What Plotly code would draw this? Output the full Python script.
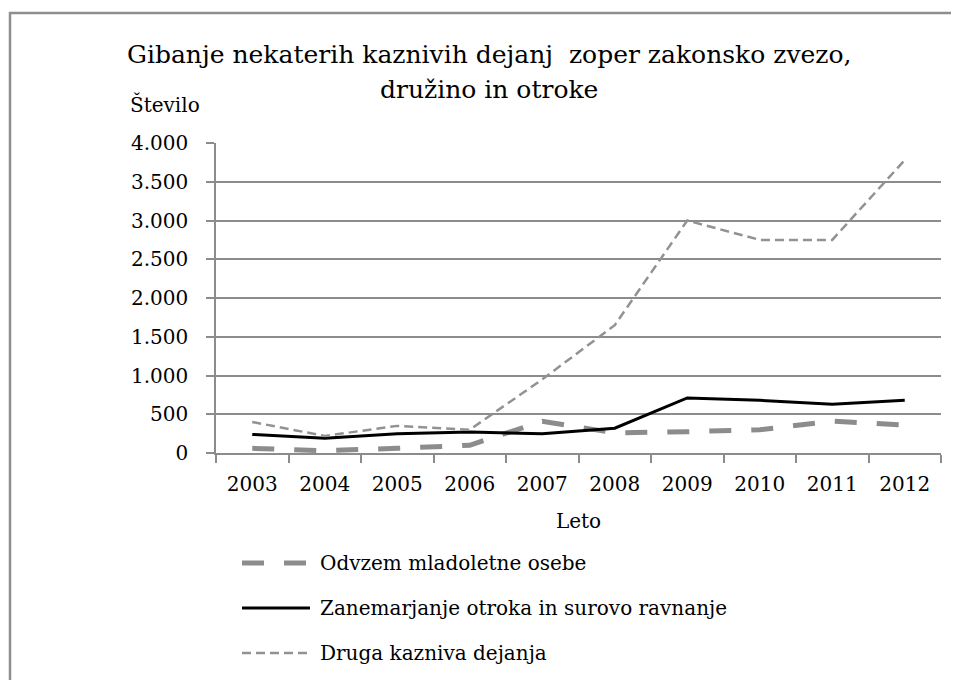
import plotly.graph_objects as go

# ---- data ----
years = ["2003", "2004", "2005", "2006", "2007", "2008", "2009", "2010", "2011", "2012"]
odvzem = [60, 30, 60, 100, 410, 260, 275, 300, 410, 360]
zanemarjanje = [240, 190, 250, 270, 250, 320, 710, 680, 630, 680]
druga = [400, 220, 350, 300, 950, 1650, 3000, 2750, 2750, 3780]
series_names = [
    "Odvzem mladoletne osebe",
    "Zanemarjanje otroka in surovo ravnanje",
    "Druga kazniva dejanja",
]
title_lines = ["Gibanje nekaterih kaznivih dejanj\u00a0 zoper zakonsko zvezo,", "družino in otroke"]
y_title = "Število"
x_title = "Leto"

# ---- layout geometry (page pixels; page body has an 8px margin) ----
OFF = 8
W, H = 959 - OFF, 680 - OFF
L, R, T, B = 216, 941, 143, 453  # plot area in page pixels
FONT = "DejaVu Serif"
GRAY = "#8c8c8c"


def px_x(p):
    return (p - L) / (R - L)


def px_y(p):
    return (B - p) / (B - T)


styles = [
    dict(color=GRAY, width=5, dash="22px,20px"),
    dict(color="#000000", width=3, dash="solid"),
    dict(color="#929292", width=2.5, dash="9px,5px"),
]

fig = go.Figure()
for name, vals, st in zip(series_names, [odvzem, zanemarjanje, druga], styles):
    fig.add_trace(go.Scatter(x=years, y=vals, name=name, mode="lines",
                             line=st, showlegend=False))

shapes = []
annotations = []

# frame border (left + top)
shapes.append(dict(type="path", xref="paper", yref="paper",
                   path=f"M {px_x(10)} {px_y(700)} L {px_x(10)} {px_y(13)} L {px_x(980)} {px_y(13)}",
                   line=dict(color="#8e8e8e", width=2.5)))

# custom legend
rows_y = [563, 608, 653]
for name, st, ry in zip(series_names, styles, rows_y):
    shapes.append(dict(type="line", xref="paper", yref="paper",
                       x0=px_x(242), x1=px_x(310), y0=px_y(ry), y1=px_y(ry),
                       line=st))
    annotations.append(dict(text=name, xref="paper", yref="paper",
                            x=px_x(318), y=px_y(ry), xanchor="left", yanchor="middle",
                            showarrow=False, font=dict(family=FONT, size=20, color="#000")))

# title lines
annotations.append(dict(text=title_lines[0], xref="paper", yref="paper",
                        x=px_x(489), y=px_y(55), xanchor="center", yanchor="middle",
                        showarrow=False, font=dict(family=FONT, size=25, color="#000")))
annotations.append(dict(text=title_lines[1], xref="paper", yref="paper",
                        x=px_x(489), y=px_y(89), xanchor="center", yanchor="middle",
                        showarrow=False, font=dict(family=FONT, size=25, color="#000")))
# y axis title
annotations.append(dict(text=y_title, xref="paper", yref="paper",
                        x=px_x(128), y=px_y(104), xanchor="left", yanchor="middle",
                        showarrow=False, font=dict(family=FONT, size=20, color="#000")))

fig.update_layout(
    width=W, height=H,
    margin=dict(l=L - OFF, r=W - (R - OFF), t=T - OFF, b=H - (B - OFF)),
    paper_bgcolor="white", plot_bgcolor="white",
    separators=",.",
    font=dict(family=FONT, size=20, color="#000"),
    shapes=shapes, annotations=annotations,
    showlegend=False,
)
fig.update_xaxes(
    type="category", range=[-0.5, 9.5],
    showline=True, linecolor=GRAY, linewidth=1.5,
    ticks="outside", tickson="boundaries", ticklen=8, tickcolor=GRAY, tickwidth=1.5,
    showgrid=False, tickfont=dict(family=FONT, size=20, color="#000"),
    ticklabelstandoff=12,
    title=dict(text=x_title, font=dict(family=FONT, size=20, color="#000"), standoff=19),
)
fig.update_yaxes(
    range=[0, 4000], dtick=500, tick0=0, tickformat=",d",
    showline=True, linecolor=GRAY, linewidth=1.5,
    ticks="outside", ticklen=8, tickcolor=GRAY, tickwidth=1.5,
    showgrid=True, gridcolor=GRAY, gridwidth=1.5,
    zeroline=False,
    tickfont=dict(family=FONT, size=20, color="#000"),
    ticklabelstandoff=14,
)

fig.write_html("out.html")
